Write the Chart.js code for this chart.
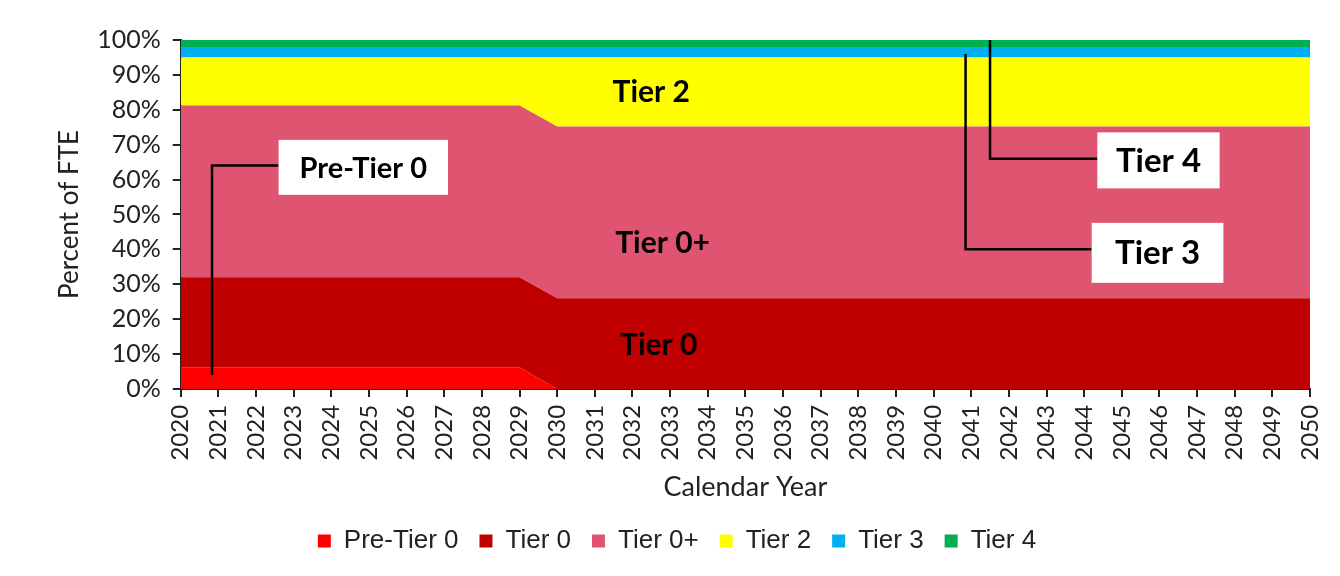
<!DOCTYPE html>
<html>
<head>
<meta charset="utf-8">
<script src="https://cdn.jsdelivr.net/npm/chart.js@4"></script>
<style>
  html, body { margin: 0; padding: 0; background: #fff; }
  #wrap { width: 1340px; height: 576px; }
</style>
</head>
<body>
<div id="wrap"><canvas id="myChart" width="1340" height="576"></canvas></div>
<script>
// years on the x axis
const years = [];
for (let y = 2020; y <= 2050; y++) years.push(String(y));

// share of FTE per tier (2020-2029 flat, step to 2030, then flat)
const preTier0 = [6.2,6.2,6.2,6.2,6.2,6.2,6.2,6.2,6.2,6.2, 0,0,0,0,0,0,0,0,0,0,0,0,0,0,0,0,0,0,0,0,0];
const tier0    = [25.8,25.8,25.8,25.8,25.8,25.8,25.8,25.8,25.8,25.8, 26,26,26,26,26,26,26,26,26,26,26,26,26,26,26,26,26,26,26,26,26];
const tier0p   = [49.2,49.2,49.2,49.2,49.2,49.2,49.2,49.2,49.2,49.2, 49.2,49.2,49.2,49.2,49.2,49.2,49.2,49.2,49.2,49.2,49.2,49.2,49.2,49.2,49.2,49.2,49.2,49.2,49.2,49.2,49.2];
const tier2    = [13.8,13.8,13.8,13.8,13.8,13.8,13.8,13.8,13.8,13.8, 19.8,19.8,19.8,19.8,19.8,19.8,19.8,19.8,19.8,19.8,19.8,19.8,19.8,19.8,19.8,19.8,19.8,19.8,19.8,19.8,19.8];
const tier3    = [3,3,3,3,3,3,3,3,3,3, 3,3,3,3,3,3,3,3,3,3,3,3,3,3,3,3,3,3,3,3,3];
const tier4    = [2,2,2,2,2,2,2,2,2,2, 2,2,2,2,2,2,2,2,2,2,2,2,2,2,2,2,2,2,2,2,2];

const seriesNames = ["Pre-Tier 0", "Tier 0", "Tier 0+", "Tier 2", "Tier 3", "Tier 4"];
const seriesColors = ["#ff0000", "#c00000", "#df5471", "#ffff00", "#00b0f0", "#00b050"];
const yTicks = [0,10,20,30,40,50,60,70,80,90,100];

// labels inside the areas: [text, year index, y value]
const areaLabels = [
  ["Tier 2", 12.5, 85],
  ["Tier 0+", 12.8, 41.7],
  ["Tier 0", 12.7, 12.6]
];
// callouts: [text, anchor x idx, anchor y, elbow y, box left idx, box right idx, box center y, box height, font px]
const callouts = [
  ["Pre-Tier 0", 0.83, 4, 64, 2.6, 7.1, 63.5, 55, 29],
  ["Tier 4", 21.5, 100, 66, 24.35, 27.6, 65.5, 56, 33],
  ["Tier 3", 20.85, 96, 40, 24.2, 27.7, 39, 60, 33]
];

const data = [preTier0, tier0, tier0p, tier2, tier3, tier4];

const labelPlugin = {
  id: 'labels',
  afterDatasetsDraw(chart) {
    const ctx = chart.ctx;
    const x = chart.scales.x, y = chart.scales.y;
    ctx.save();
    ctx.font = 'bold 30px Lato';
    ctx.fillStyle = '#000';
    ctx.textAlign = 'center';
    ctx.textBaseline = 'middle';
    areaLabels.forEach(l => {
      ctx.fillText(l[0], x.getPixelForValue(l[1]), y.getPixelForValue(l[2]));
    });
    callouts.forEach(c => {
      const ax = x.getPixelForValue(c[1]);
      const ay = y.getPixelForValue(c[2]);
      const ey = y.getPixelForValue(c[3]);
      const bl = x.getPixelForValue(c[4]);
      const br = x.getPixelForValue(c[5]);
      const by = y.getPixelForValue(c[6]);
      ctx.strokeStyle = '#000';
      ctx.lineWidth = 2.5;
      ctx.beginPath();
      ctx.moveTo(ax, ay);
      ctx.lineTo(ax, ey);
      ctx.lineTo(bl, ey);
      ctx.stroke();
      ctx.fillStyle = '#fff';
      ctx.fillRect(bl, by - c[7] / 2, br - bl, c[7]);
      ctx.fillStyle = '#000';
      ctx.font = 'bold ' + c[8] + 'px Lato';
      ctx.fillText(c[0], (bl + br) / 2, by + 1);
    });
    ctx.restore();
  }
};

const ctx = document.getElementById('myChart');
new Chart(ctx, {
  type: 'line',
  data: {
    labels: years,
    datasets: seriesNames.map((name, i) => ({
      label: name,
      data: data[i],
      backgroundColor: seriesColors[i],
      borderColor: seriesColors[i],
      borderWidth: 0,
      pointRadius: 0,
      fill: i === 0 ? 'origin' : '-1',
      tension: 0
    }))
  },
  options: {
    responsive: false,
    animation: false,
    layout: { padding: { left: 44, right: 30, top: 40, bottom: 12 } },
    plugins: {
      legend: {
        position: 'bottom',
        labels: {
          boxWidth: 13,
          boxHeight: 13,
          padding: 21,
          color: '#222',
          font: { family: 'Liberation Sans', size: 26 }
        }
      },
      tooltip: { enabled: false }
    },
    scales: {
      x: {
        offset: false,
        afterFit: axis => { axis.paddingLeft = 0; axis.paddingRight = 0; },
        grid: { display: true, drawOnChartArea: false, tickLength: 8, color: '#222', lineWidth: 2 },
        border: { color: '#222', width: 2 },
        ticks: { minRotation: 90, maxRotation: 90, autoSkip: false, color: '#222', font: { family: 'Lato', size: 24 }, padding: 8 },
        title: { display: true, text: 'Calendar Year', color: '#222', font: { family: 'Lato', size: 27 }, padding: { top: 2, bottom: 4 } }
      },
      y: {
        stacked: true,
        min: 0,
        max: 100,
        afterBuildTicks: axis => { axis.ticks = yTicks.map(v => ({ value: v })); },
        grid: { display: true, drawOnChartArea: false, tickLength: 8, color: '#222', lineWidth: 2 },
        border: { color: '#222', width: 2 },
        ticks: { color: '#222', font: { family: 'Lato', size: 25 }, padding: 12, callback: v => v + '%' },
        title: { display: true, text: 'Percent of FTE', color: '#222', font: { family: 'Lato', size: 26 }, padding: { top: 10, bottom: 0 } }
      }
    }
  },
  plugins: [labelPlugin]
});
</script>
</body>
</html>
